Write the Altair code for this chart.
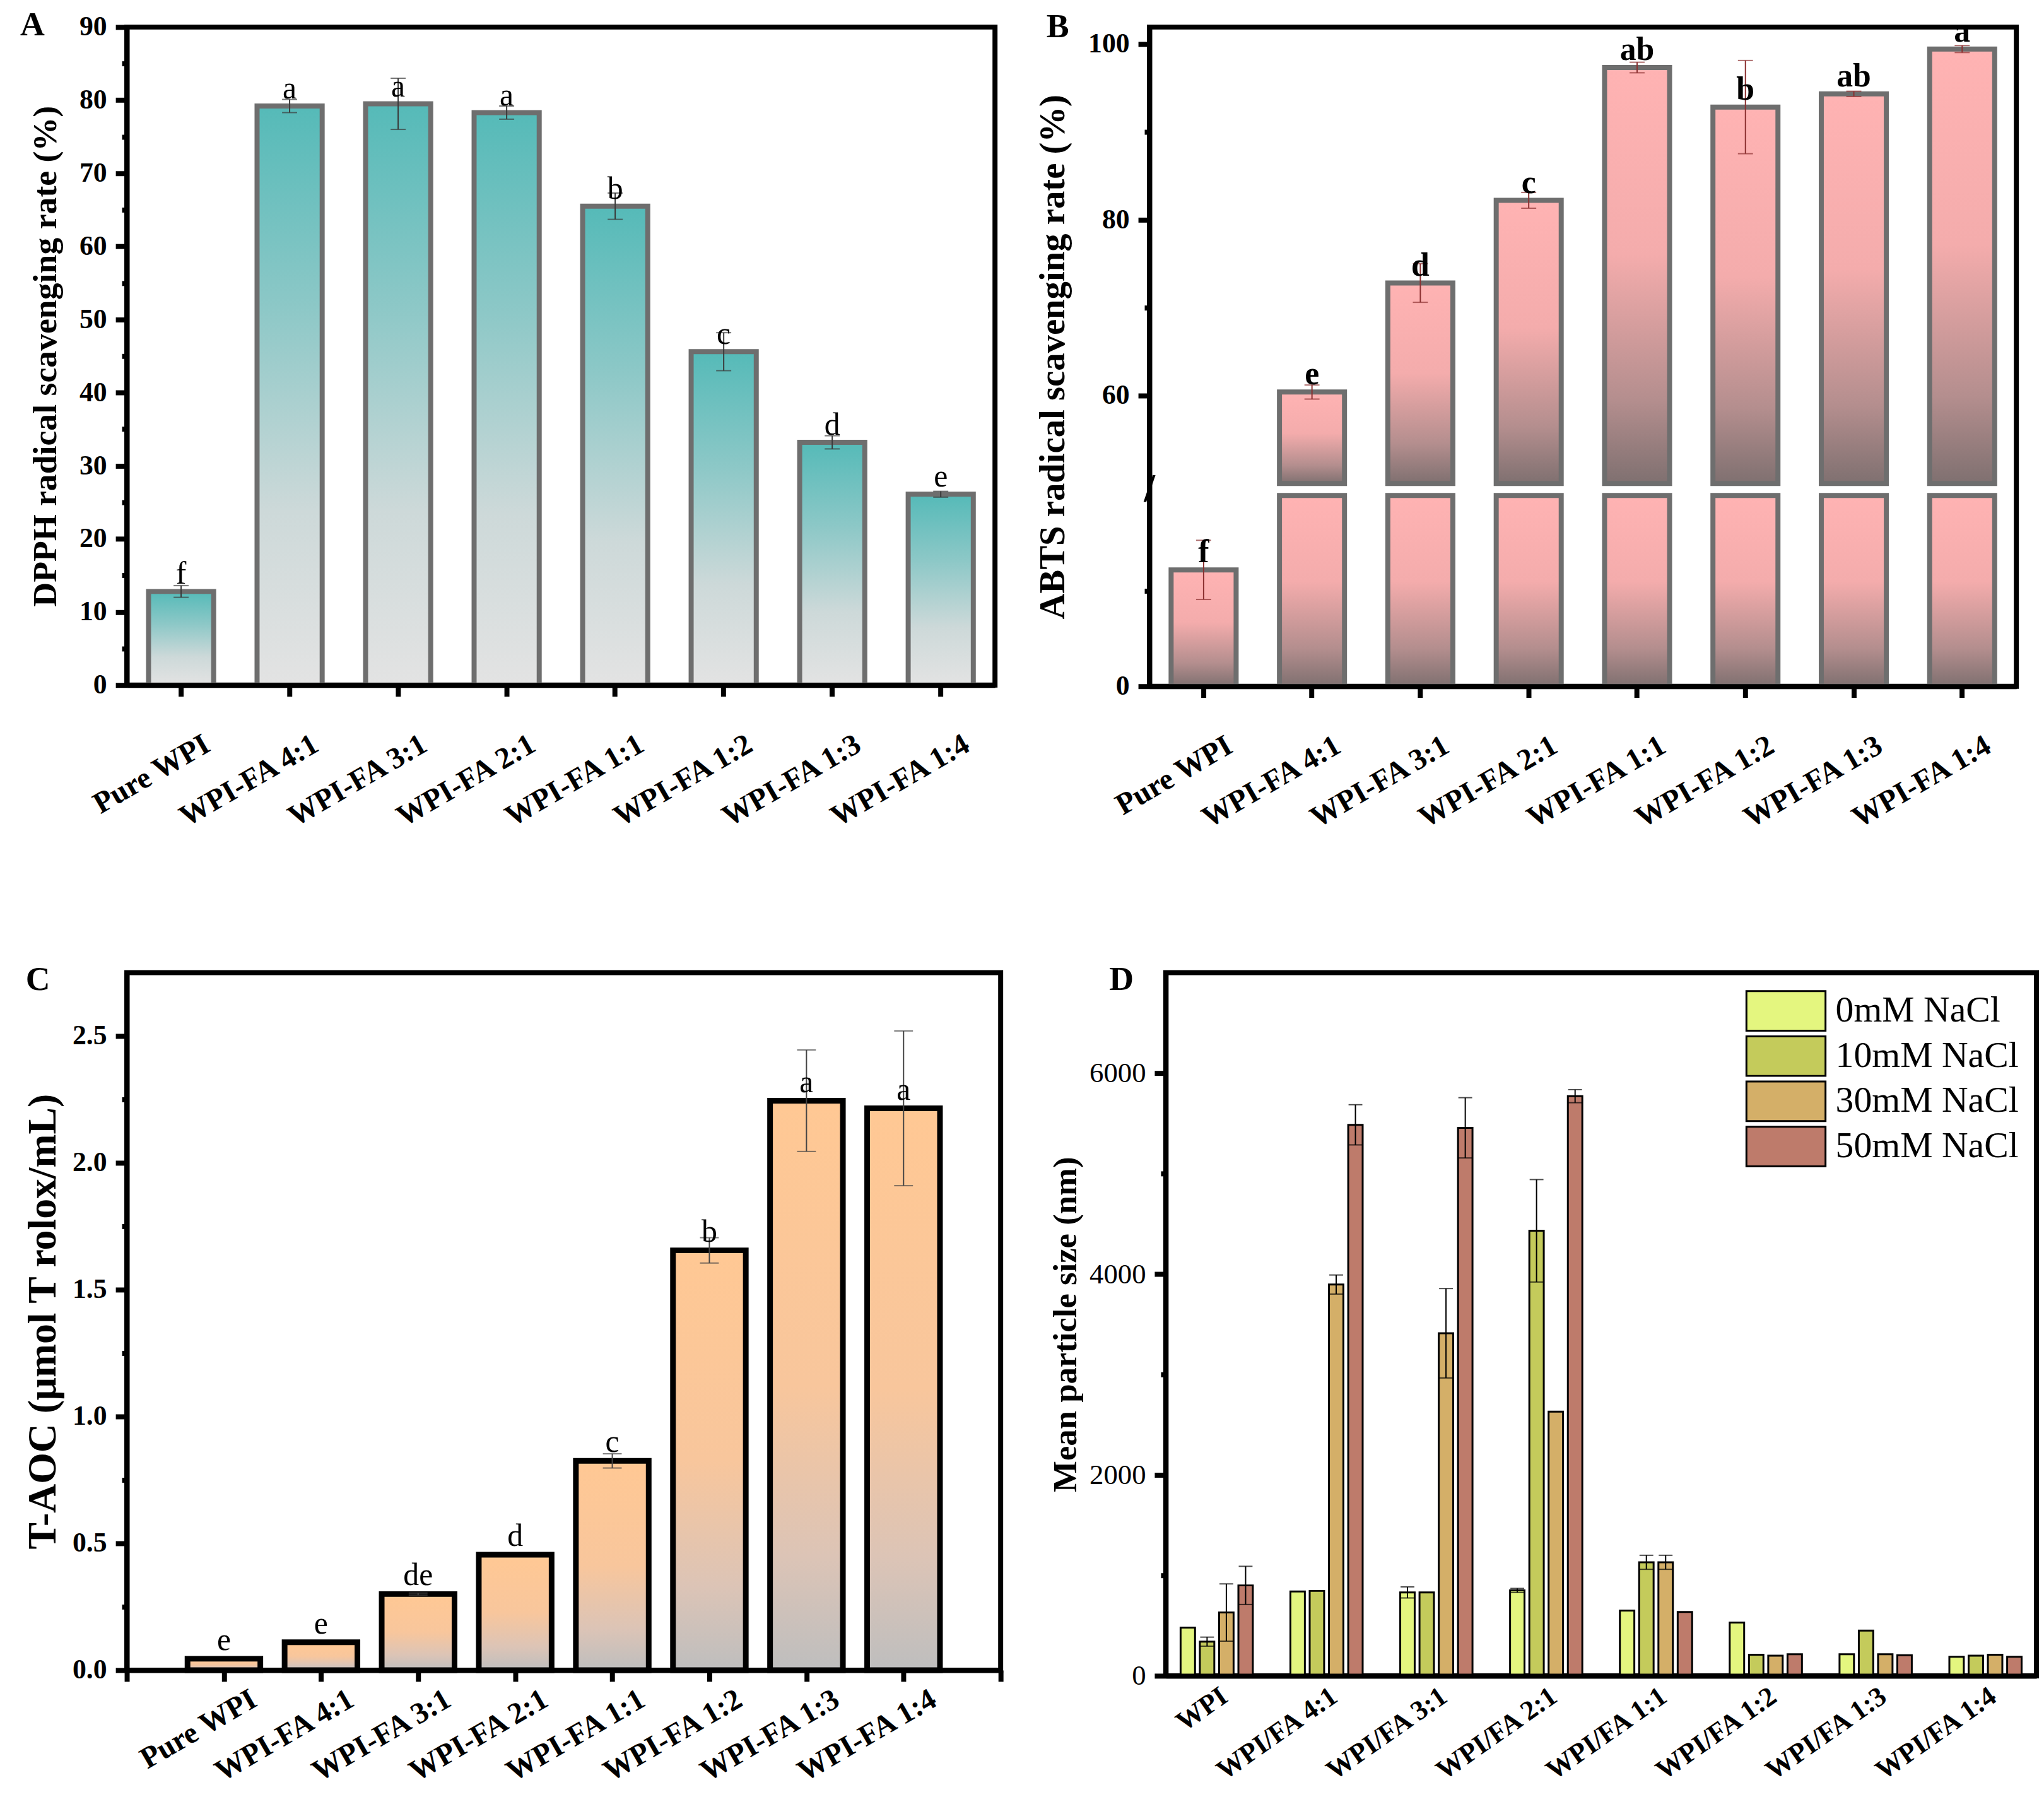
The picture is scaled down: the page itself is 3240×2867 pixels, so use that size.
import json
import altair as alt
import pandas as pd

FONT = "Liberation Serif"

# ---------------- data ----------------
cats = ["Pure WPI", "WPI-FA  4:1", "WPI-FA  3:1", "WPI-FA  2:1",
        "WPI-FA  1:1", "WPI-FA  1:2", "WPI-FA  1:3", "WPI-FA  1:4"]

dpph_mean = [12.8, 79.2, 79.5, 78.3, 65.5, 45.6, 33.2, 26.1]
dpph_err = [0.8, 0.9, 3.5, 0.9, 1.8, 2.6, 0.9, 0.4]
dpph_sig = ["f", "a", "a", "a", "b", "c", "d", "e"]

abts_mean = [12.2, 60.4, 72.8, 82.2, 97.3, 92.8, 94.3, 99.4]
abts_err = [3.1, 0.8, 2.2, 0.9, 0.6, 5.3, 0.3, 0.4]
abts_sig = ["f", "e", "d", "c", "ab", "b", "ab", "a"]

taoc_mean = [0.045, 0.11, 0.30, 0.455, 0.825, 1.655, 2.245, 2.215]
taoc_err = [0.0, 0.0, 0.004, 0.0, 0.028, 0.05, 0.2, 0.305]
taoc_sig = ["e", "e", "de", "d", "c", "b", "a", "a"]

groups_d = ["WPI", "WPI/FA 4:1", "WPI/FA 3:1", "WPI/FA 2:1",
            "WPI/FA 1:1", "WPI/FA 1:2", "WPI/FA 1:3", "WPI/FA 1:4"]
salts = ["0mM NaCl", "10mM NaCl", "30mM NaCl", "50mM NaCl"]
size_0mM = [480, 840, 830, 850, 650, 530, 215, 190]
size_0mM_err = [0, 0, 55, 20, 0, 0, 0, 0]
size_10mM = [340, 845, 830, 4430, 1130, 210, 450, 200]
size_10mM_err = [45, 0, 0, 510, 70, 0, 0, 0]
size_30mM = [630, 3895, 3410, 2630, 1130, 200, 215, 210]
size_30mM_err = [285, 95, 445, 0, 70, 0, 0, 0]
size_50mM = [900, 5485, 5455, 5770, 635, 215, 205, 190]
size_50mM_err = [190, 200, 300, 65, 0, 0, 0, 0]
salt_colors = ["#E4F67F", "#C4CB5B", "#D4AF68", "#BE7B6B"]

# ---------------- helpers ----------------
def grad(stops):
    return {"gradient": "linear", "x1": 0, "x2": 0, "y1": 0, "y2": 1,
            "stops": [{"offset": o, "color": c} for o, c in stops]}

def frame(means, errs, sigs):
    return pd.DataFrame({
        "cat": cats, "pos": list(range(1, len(cats) + 1)),
        "val": means, "err": errs, "sig": sigs, "zero": 0,
        "lo": [m - e for m, e in zip(means, errs)],
        "hi": [m + e for m, e in zip(means, errs)],
    })

def cat_axis(angle=-30, size=48, offset=30, pad=52, ticks=True, **kw):
    return alt.Axis(title=None, labelAngle=angle, labelAlign="right",
                    labelBaseline="top", labelFontSize=size,
                    labelFontWeight="bold", labelOffset=offset,
                    labelPadding=pad, labelLimit=0, labelColor="black",
                    labelOverlap=False,
                    ticks=ticks, tickSize=18, tickWidth=8, tickColor="black",
                    domainColor="black", domainWidth=8, grid=False, zindex=1, **kw)

def val_axis(title, values, major_test, title_size, label_size, bold=True,
             fmt=None, title_pad=26):
    kw = {}
    if fmt:
        kw["format"] = fmt
    return alt.Axis(values=values,
                    labelExpr=f"({major_test}) ? datum.label : ''",
                    tickSize={"condition": {"test": major_test, "value": 18}, "value": 8},
                    tickWidth=8, tickColor="black",
                    labelFontSize=label_size,
                    labelFontWeight="bold" if bold else "normal",
                    labelColor="black", labelPadding=14, labelOverlap=False,
                    title=title, titleFontSize=title_size, titleFontWeight="bold",
                    titleColor="black", titlePadding=title_pad, titleLimit=3000,
                    domainColor="black", domainWidth=8, grid=False, zindex=1, **kw)

def letter(t, dx, dy=67):
    return alt.TitleParams(text=t, anchor="start", frame="group", dx=dx,
                           offset=-22, dy=dy, baseline="alphabetic", fontSize=54,
                           fontWeight="bold", font=FONT, color="black")

# ---------------- panel A ----------------
dfA = frame(dpph_mean, dpph_err, dpph_sig)
WA, HA = 1383, 1048
xA = alt.X("cat:N", sort=cats, scale=alt.Scale(paddingInner=0.4, paddingOuter=0.2),
           axis=cat_axis())
yA_scale = alt.Scale(domain=[0, 90], nice=False)
yA_axis = val_axis("DPPH radical scavenging rate (%)", list(range(0, 91, 5)),
                   "datum.value % 10 === 0", 54, 44)
baseA = alt.Chart(dfA)
barsA = baseA.mark_bar(
    fill=grad([(0, "#55BAB8"), (0.35, "#8DC8C7"), (0.7, "#CDD9D9"), (1, "#E3E3E3")]),
    stroke="#6E6E6E", strokeWidth=8
).encode(x=xA, y=alt.Y("val:Q", scale=yA_scale, axis=yA_axis), y2="zero:Q")
errA = baseA.mark_rule(color="#3A3A3A", strokeWidth=2).encode(
    x=xA, y=alt.Y("lo:Q", scale=yA_scale, axis=yA_axis), y2="hi:Q")
capA = baseA.mark_tick(color="#3A3A3A", thickness=2, size=24).encode(
    x=xA, y=alt.Y("hi:Q", scale=yA_scale, axis=yA_axis))
capA2 = baseA.mark_tick(color="#3A3A3A", thickness=2, size=24).encode(
    x=xA, y=alt.Y("lo:Q", scale=yA_scale, axis=yA_axis))
txtA = baseA.mark_text(baseline="alphabetic", dy=-12, fontSize=50, font=FONT,
                       color="black").encode(
    x=xA, y=alt.Y("val:Q", scale=yA_scale, axis=yA_axis), text="sig:N")
chartA = alt.layer(barsA, errA, capA, capA2, txtA).properties(
    width=WA, height=HA, title=letter("A", -170))

# ---------------- panel B (broken axis) ----------------
dfB = frame(abts_mean, abts_err, abts_sig)
dfB["lo_top"] = [min(v, 20) for v in abts_mean]
dfB["hi_base"] = 50
WB, HB = 1381, 1050
xB = alt.X("cat:N", sort=cats, scale=alt.Scale(paddingInner=0.4, paddingOuter=0.2),
           axis=cat_axis())
yB_scale = alt.Scale(domain=[0, 20, 50, 101.9], range=[HB, 746, 727, 0],
                     nice=False, zero=False)
yB_axis = val_axis("ABTS radical scavenging rate (%)", [0, 10, 60, 70, 80, 90, 100],
                   "datum.value % 20 === 0", 57, 44)
baseB = alt.Chart(dfB)
gradB = grad([(0, "#FFB3B3"), (0.45, "#F4ACAC"), (0.8, "#B48E8E"), (1, "#7F7070")])
lowB = baseB.mark_bar(fill=gradB, stroke="#6E6E6E", strokeWidth=8).encode(
    x=xB, y=alt.Y("lo_top:Q", scale=yB_scale, axis=yB_axis), y2="zero:Q")
upB = baseB.transform_filter("datum.val > 50").mark_bar(
    fill=gradB, stroke="#6E6E6E", strokeWidth=8).encode(
    x=xB, y=alt.Y("val:Q", scale=yB_scale, axis=yB_axis), y2="hi_base:Q")
errB = baseB.mark_rule(color="#8B3030", strokeWidth=2).encode(
    x=xB, y=alt.Y("lo:Q", scale=yB_scale, axis=yB_axis), y2="hi:Q")
capB = baseB.mark_tick(color="#8B3030", thickness=2, size=24).encode(
    x=xB, y=alt.Y("hi:Q", scale=yB_scale, axis=yB_axis))
capB2 = baseB.mark_tick(color="#8B3030", thickness=2, size=24).encode(
    x=xB, y=alt.Y("lo:Q", scale=yB_scale, axis=yB_axis))
txtB = baseB.mark_text(baseline="alphabetic", dy=-12, fontSize=52, font=FONT,
                       fontWeight="bold", color="black").encode(
    x=xB, y=alt.Y("val:Q", scale=yB_scale, axis=yB_axis), text="sig:N")
brk = alt.Chart(pd.DataFrame({"b": [35], "s": ["/"]})).mark_text(
    fontSize=64, fontWeight="bold", font=FONT, color="black").encode(
    x=alt.value(0), y=alt.Y("b:Q", scale=yB_scale, axis=yB_axis), text="s:N")
chartB = alt.layer(lowB, upB, errB, capB, capB2, txtB, brk).properties(
    width=WB, height=HB, title=letter("B", -164))

# ---------------- panel C ----------------
dfC = frame(taoc_mean, taoc_err, taoc_sig)
WC, HC = 1392, 1111
labels_c = json.dumps([""] + cats + [""])
xC_axis = cat_axis(offset=36, pad=4, values=list(range(0, 10)),
                   labelExpr=f"{labels_c}[round(datum.value)]")
xC_scale = alt.Scale(domain=[0, 9], nice=False, zero=False)
yC_scale = alt.Scale(domain=[0, 2.75], nice=False)
yC_axis = val_axis("T-AOC (μmol T rolox/mL)", [i * 0.25 for i in range(11)],
                   "round(datum.value * 4) % 2 === 0", 64, 44, fmt=".1f", title_pad=14)
baseC = alt.Chart(dfC).transform_calculate(xl="datum.pos - 0.375", xr="datum.pos + 0.375")
barsC = baseC.mark_bar(
    fill=grad([(0, "#FFC894"), (0.5, "#F8C69C"), (0.8, "#DCC4B6"), (1, "#BEBEBE")]),
    stroke="black", strokeWidth=9
).encode(x=alt.X("xl:Q", scale=xC_scale, axis=xC_axis), x2="xr:Q",
         y=alt.Y("val:Q", scale=yC_scale, axis=yC_axis), y2="zero:Q")
errCsrc = baseC.transform_filter("datum.err > 0")
errC = errCsrc.mark_rule(color="#444444", strokeWidth=2).encode(
    x=alt.X("pos:Q", scale=xC_scale, axis=xC_axis),
    y=alt.Y("lo:Q", scale=yC_scale, axis=yC_axis), y2="hi:Q")
capC = errCsrc.mark_tick(color="#444444", thickness=2, size=30, orient="horizontal").encode(
    x=alt.X("pos:Q", scale=xC_scale, axis=xC_axis),
    y=alt.Y("hi:Q", scale=yC_scale, axis=yC_axis))
capC2 = errCsrc.mark_tick(color="#444444", thickness=2, size=30, orient="horizontal").encode(
    x=alt.X("pos:Q", scale=xC_scale, axis=xC_axis),
    y=alt.Y("lo:Q", scale=yC_scale, axis=yC_axis))
txtC = baseC.mark_text(baseline="alphabetic", dy=-14, fontSize=50, font=FONT,
                       color="black").encode(
    x=alt.X("pos:Q", scale=xC_scale, axis=xC_axis),
    y=alt.Y("val:Q", scale=yC_scale, axis=yC_axis), text="sig:N")
chartC = alt.layer(barsC, errC, capC, capC2, txtC).properties(
    width=WC, height=HC, title=letter("C", -161, 60))

# ---------------- panel D ----------------
rows = []
for s, vals, errs in zip(salts, [size_0mM, size_10mM, size_30mM, size_50mM],
                         [size_0mM_err, size_10mM_err, size_30mM_err, size_50mM_err]):
    for g, v, e in zip(groups_d, vals, errs):
        rows.append({"group": g, "salt": s, "val": v, "err": e,
                     "lo": v - e, "hi": v + e})
dfD = pd.DataFrame(rows)
WD, HD = 1387, 1120
xD = alt.X("group:N", sort=groups_d,
           scale=alt.Scale(paddingInner=0.3, paddingOuter=0.114),
           axis=cat_axis(angle=-35, size=44, offset=0, pad=10, ticks=False))
xoD = alt.XOffset("salt:N", sort=salts,
                  scale=alt.Scale(paddingInner=0.25, paddingOuter=0.12))
yD_scale = alt.Scale(domain=[0, 7000], nice=False)
yD_axis = val_axis("Mean particle size (nm)", list(range(0, 6001, 1000)),
                   "datum.value % 2000 === 0", 53, 45, bold=False, fmt="d", title_pad=10)
colD = alt.Color("salt:N", sort=salts,
                 scale=alt.Scale(domain=salts, range=salt_colors),
                 legend=alt.Legend(title=None, orient="top-right", offset=28,
                                   symbolType="M-2,-1H2V1H-2Z", symbolSize=3969,
                                   symbolStrokeColor="black", symbolStrokeWidth=3,
                                   symbolOpacity=1, labelFontSize=58, labelFont=FONT,
                                   labelColor="black", rowPadding=-4, labelOffset=46,
                                   padding=0, labelLimit=0))
baseD = alt.Chart(dfD)
barsD = baseD.mark_bar(stroke="black", strokeWidth=3, opacity=1).encode(
    x=xD, xOffset=xoD, y=alt.Y("val:Q", scale=yD_scale, axis=yD_axis), fill=colD)
errDsrc = baseD.transform_filter("datum.err > 0")
errD = errDsrc.mark_rule(color="black", strokeWidth=2).encode(
    x=xD, xOffset=xoD, y=alt.Y("lo:Q", scale=yD_scale, axis=yD_axis), y2="hi:Q")
capD = errDsrc.mark_tick(color="black", thickness=2, size=22).encode(
    x=xD, xOffset=xoD, y=alt.Y("hi:Q", scale=yD_scale, axis=yD_axis))
capD2 = errDsrc.mark_tick(color="black", thickness=2, size=22).encode(
    x=xD, xOffset=xoD, y=alt.Y("lo:Q", scale=yD_scale, axis=yD_axis))
chartD = alt.layer(barsD, errD, capD, capD2).properties(
    width=WD, height=HD, title=letter("D", -90, 60))

# ---------------- layout ----------------
top = alt.hconcat(chartA, chartB, spacing=56)
bottom = alt.hconcat(chartC, chartD, spacing=10).resolve_scale(fill="independent")
chart = alt.vconcat(top, bottom, spacing=191).resolve_scale(fill="independent").properties(
    padding={"left": 20, "top": -6, "right": 0, "bottom": 0},
    background="white",
).configure_view(stroke="black", strokeWidth=8
).configure_axis(labelFont=FONT, titleFont=FONT
).configure_text(font=FONT
).configure_legend(labelFont=FONT)

chart.save("out.html", embed_options={"renderer": "svg", "actions": False})
